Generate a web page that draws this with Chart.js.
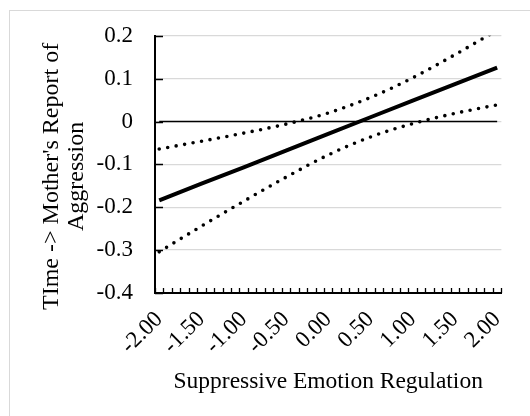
<!DOCTYPE html>
<html>
<head>
<meta charset="utf-8">
<script src="https://cdn.jsdelivr.net/npm/chart.js@4"></script>
<style>
  html, body { margin: 0; padding: 0; width: 530px; height: 416px; overflow: hidden; background: #ffffff; }
  #frame { position: absolute; left: 9px; top: 10px; width: 600px; height: 500px; border: 1px solid #d9d9d9; box-sizing: border-box; }
  #c { position: absolute; left: 0; top: 0; }
</style>
</head>
<body>
<div id="frame"></div>
<canvas id="c" width="530" height="416"></canvas>
<script>
// Category labels of the horizontal axis (41 categories, every 5th is labelled)
const xLabels = ['-2.00','-1.90','-1.80','-1.70','-1.60','-1.50','-1.40','-1.30','-1.20','-1.10',
                 '-1.00','-0.90','-0.80','-0.70','-0.60','-0.50','-0.40','-0.30','-0.20','-0.10',
                 '0.00','0.10','0.20','0.30','0.40','0.50','0.60','0.70','0.80','0.90',
                 '1.00','1.10','1.20','1.30','1.40','1.50','1.60','1.70','1.80','1.90','2.00'];
// Sample positions where values were read
const samplePts = ['-2.00','-1.50','-1.00','-0.50','0.00','0.50','1.00','1.50','2.00'];
// Simple slope (solid) and confidence bounds (dotted)
const effect = [-0.184, -0.145, -0.107, -0.068, -0.029, 0.010, 0.049, 0.087, 0.126];
const upper  = [-0.064, -0.046, -0.027, -0.006, 0.020, 0.056, 0.102, 0.156, 0.213];
const lower  = [-0.304, -0.244, -0.186, -0.130, -0.078, -0.036, -0.005, 0.019, 0.039];
const zeroLine = [0, 0];
const zeroPts = ['-2.00', '2.00'];
// Vertical axis ticks
const yMin = -0.4, yMax = 0.2, yStep = 0.1;
const xTitle = 'Suppressive Emotion Regulation';
const yTitle = ["TIme -> Mother's Report of    ", 'Aggression    '];

const FONT = "'Liberation Serif', 'Times New Roman', serif";
const pair = (labels, vals) => vals.map((v, i) => ({ x: labels[i], y: v }));

const innerTicks = {
  id: 'innerTicks',
  afterDraw(chart) {
    const ctx = chart.ctx;
    const xs = chart.scales.x, ys = chart.scales.y;
    ctx.save();
    ctx.strokeStyle = '#000';
    ctx.lineWidth = 1.3;
    ctx.beginPath();
    const n = xs.ticks.length;
    const w = (xs.right - xs.left) / n;
    for (let i = 0; i <= n; i++) {
      const px = Math.round(xs.left + i * w) + 0.5;
      ctx.moveTo(px, xs.top);
      ctx.lineTo(px, xs.top - 5);
    }
    ys.ticks.forEach(t => {
      const py = Math.round(ys.getPixelForValue(t.value)) + 0.5;
      ctx.moveTo(ys.right, py);
      ctx.lineTo(ys.right + 8, py);
    });
    ctx.stroke();
    ctx.restore();
  }
};

new Chart(document.getElementById('c'), {
  type: 'line',
  data: {
    labels: xLabels,
    datasets: [
      { data: pair(zeroPts, zeroLine), borderColor: '#000', borderWidth: 1.6, pointRadius: 0, clip: 0 },
      { data: pair(samplePts, upper), borderColor: '#000', borderWidth: 3.6, borderDash: [0, 8.6], borderCapStyle: 'round',
        pointRadius: 0, cubicInterpolationMode: 'monotone', clip: 0 },
      { data: pair(samplePts, lower), borderColor: '#000', borderWidth: 3.6, borderDash: [0, 8.6], borderCapStyle: 'round',
        pointRadius: 0, cubicInterpolationMode: 'monotone', clip: 0 },
      { data: pair(samplePts, effect), borderColor: '#000', borderWidth: 4, pointRadius: 0, clip: 0 }
    ]
  },
  options: {
    responsive: false,
    animation: false,
    devicePixelRatio: 1,
    layout: { padding: { top: 33, right: 27, left: 0, bottom: 0 } },
    plugins: { legend: { display: false }, tooltip: { enabled: false } },
    scales: {
      x: {
        type: 'category',
        offset: true,
        grid: { offset: true, drawOnChartArea: false, drawTicks: false },
        border: { color: '#000', width: 2 },
        ticks: {
          autoSkip: false, maxRotation: 45, minRotation: 45, padding: 13,
          color: '#000', font: { family: FONT, size: 23 },
          callback: function (v, i) { return i % 5 === 0 ? this.getLabelForValue(v) : ''; }
        },
        title: { display: true, text: xTitle, color: '#000', font: { family: FONT, size: 23.5 }, padding: { top: 0, bottom: 20 } },
        afterFit: s => { s.height = 123; }
      },
      y: {
        min: yMin, max: yMax,
        grid: { color: '#d9d9d9', lineWidth: 1.3, drawTicks: false },
        border: { color: '#000', width: 2 },
        ticks: {
          stepSize: yStep, padding: 22, color: '#000', font: { family: FONT, size: 23 },
          callback: v => String(Number(v.toFixed(1)))
        },
        title: { display: true, text: yTitle, color: '#000', font: { family: FONT, size: 24, lineHeight: 1.04 }, padding: { top: 39, bottom: 0 } },
        afterFit: s => { s.width = 155; }
      }
    }
  },
  plugins: [innerTicks]
});
</script>
</body>
</html>
